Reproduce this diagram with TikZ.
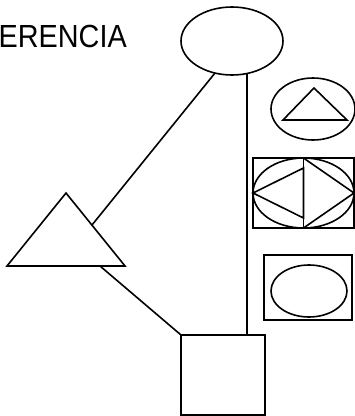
\documentclass[tikz,border=0pt]{standalone}
\usepackage{fontspec}
\setmainfont{Liberation Sans}
\usetikzlibrary{shapes.geometric}

\begin{document}
\begin{tikzpicture}[x=1pt, y=-1pt, line width=1.6pt,
	outl/.style={draw, inner sep=0pt, outer sep=0pt},
	oval/.style={outl, ellipse},
	box/.style={outl, rectangle}]
	\useasboundingbox (0,0) rectangle (355,416);
	\node[font=\fontsize{32}{32}\selectfont, xscale=0.9, anchor=base west, inner sep=0pt] (titel) at (-2,47) {ERENCIA};
	% ellipse, triangle and square on the left
	\node[oval, minimum width=102pt, minimum height=68pt] (ovaltop) at (232,41) {};
	\coordinate (triA) at (66,193);
	\coordinate (triL) at (7,266);
	\coordinate (triR) at (125,266);
	\draw (triA) -- (triL) -- (triR) -- cycle;
	\coordinate (triS) at (92,225);
	\coordinate (triB) at (100,266);
	\node[box, minimum width=84pt, minimum height=80pt] (sq) at (223,375) {};
	\draw (ovaltop.242) -- (triS);
	\draw (ovaltop.295) -- (ovaltop.295 |- sq.north);
	\draw (triB) -- (sq.north west);
	% the three small figures on the right
	\node[oval, minimum width=84pt, minimum height=62pt] (ovaltri) at (313,109) {};
	\draw (314,88) -- (283,120) -- (347,120) -- cycle;
	\node[box, minimum width=101pt, minimum height=70pt] (boxmid) at (303.5,193) {};
	\node[oval, minimum width=101pt, minimum height=70pt] (ovalmid) at (boxmid) {};
	\draw (boxmid.north) -- (boxmid.south);
	\draw (boxmid.west) -- (303.5,168) -- (303.5,218) -- cycle;
	\draw (boxmid.north) -- (boxmid.east) -- (boxmid.south);
	\node[box, minimum width=88pt, minimum height=65pt] (boxlow) at (308,287.5) {};
	\node[oval, minimum width=76pt, minimum height=52pt] (ovallow) at (309,291) {};
\end{tikzpicture}
\end{document}
